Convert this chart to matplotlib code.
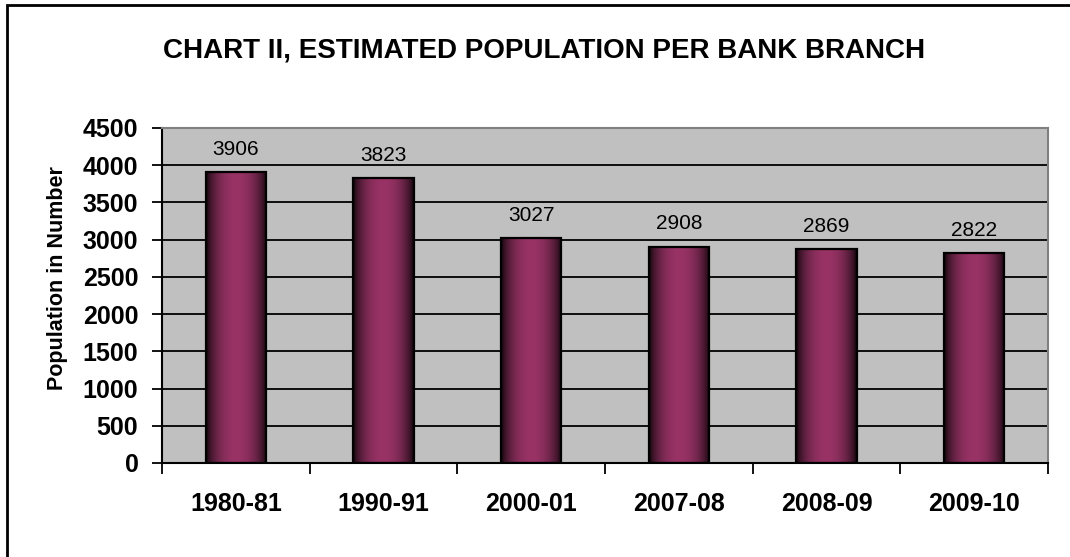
import numpy as np
import matplotlib
matplotlib.use("Agg")
import matplotlib.pyplot as plt
from matplotlib.patches import Rectangle

plt.rcParams['font.family'] = ['Liberation Sans', 'DejaVu Sans']

years = ["1980-81", "1990-91", "2000-01", "2007-08", "2008-09", "2009-10"]
population = [3906, 3823, 3027, 2908, 2869, 2822]
yticks = list(range(0, 4501, 500))

fig = plt.figure(figsize=(10.7, 5.57), dpi=100)
ax = fig.add_axes([0.1514, 0.1688, 0.828, 0.6014])
ax.set_facecolor("#C0C0C0")

# outer chart border (only left/top visible in the crop)
fig.patches.append(Rectangle((7 / 1070, -0.1), 1.2, 1 - 5 / 557 + 0.1,
                             transform=fig.transFigure, fill=False,
                             edgecolor="black", linewidth=2, zorder=0))

x = np.arange(len(years))
width = 0.41

# horizontal gradient: dark edges, maroon centre
t = np.linspace(-1, 1, 200)
shade = np.clip(np.cos(t * np.pi / 2) ** 0.6, 0, 1)
base = np.array([153, 51, 102]) / 255.0
grad = (shade[:, None] * base[None, :])[None, :, :]

for xi, v in zip(x, population):
    rect = Rectangle((xi - width / 2, 0), width, v, facecolor="none",
                     edgecolor="black", linewidth=1.6, zorder=3)
    ax.add_patch(rect)
    ax.imshow(grad, extent=(xi - width / 2, xi + width / 2, 0, v),
              aspect="auto", zorder=2, interpolation="bilinear")
    ax.text(xi, v + 175, str(v), ha="center", va="bottom", fontsize=15,
            zorder=4)

ax.set_xlim(-0.5, len(years) - 0.5)
ax.set_ylim(0, 4500)

ax.set_yticks(yticks)
ax.set_yticklabels([str(v) for v in yticks], fontsize=18, fontweight="bold")
ax.set_xticks(x)
ax.set_xticklabels(years, fontsize=18, fontweight="bold")
ax.tick_params(axis="x", length=0, pad=21)
ax.set_xticks(np.arange(-0.5, len(years)), minor=True)
ax.tick_params(axis="x", which="minor", length=8, width=1.3, direction="out")
ax.tick_params(axis="y", length=7, width=1.3, direction="out", pad=10)

ax.yaxis.grid(True, color="black", linewidth=1.3)
ax.set_axisbelow(True)

ax.spines["left"].set_linewidth(1.5)
ax.spines["bottom"].set_linewidth(1.5)
ax.spines["top"].set_color("#808080")
ax.spines["right"].set_color("#808080")
ax.spines["top"].set_linewidth(1.5)
ax.spines["right"].set_linewidth(1.5)

ax.set_ylabel("Population in Number", fontsize=15.5, fontweight="bold")
ax.yaxis.set_label_coords(58 / 1070, 0.5, transform=fig.transFigure)
ax.yaxis.label.set_va("center")
fig.text(544 / 1070, 1 - 51 / 557, "CHART II, ESTIMATED POPULATION PER BANK BRANCH",
         ha="center", va="center", fontsize=20, fontweight="bold")

fig.savefig("out.png", dpi=100)
